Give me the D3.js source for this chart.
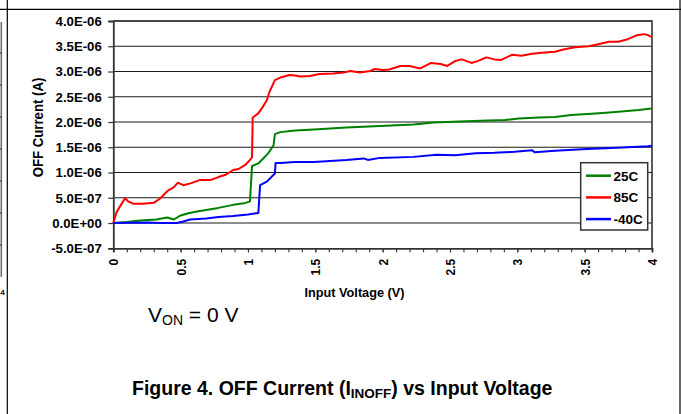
<!DOCTYPE html>
<html><head><meta charset="utf-8">
<script src="https://cdn.jsdelivr.net/npm/d3@7/dist/d3.min.js"></script>
<style>
html,body{margin:0;padding:0;background:#fff;}
svg{display:block;font-family:"Liberation Sans",Arial,Helvetica,sans-serif;}
</style></head>
<body>
<svg id="chart" width="681" height="414"></svg>
<script>
// ---- data (voltage in V, current in µA; axis labels shown in A) ----
const seriesNames = ["25C", "85C", "-40C"];
const seriesColors = ["#008000", "#ff0000", "#0000ff"];

const v25 = [0,0.10,0.20,0.32,0.40,0.45,0.50,0.55,0.62,0.69,0.78,0.89,0.97,1.015,1.03,1.077,1.15,1.19,1.20,1.24,1.35,1.49,1.73,1.98,2.23,2.38,2.57,2.78,2.91,3.01,3.16,3.28,3.40,3.58,3.73,3.90,4.00];
const i25 = [0,0.02,0.05,0.07,0.11,0.07,0.15,0.19,0.23,0.26,0.30,0.36,0.39,0.43,1.13,1.18,1.38,1.54,1.76,1.80,1.83,1.85,1.89,1.92,1.95,1.99,2.01,2.03,2.04,2.07,2.09,2.10,2.14,2.17,2.20,2.24,2.27];

const v85 = [0,0.025,0.05,0.087,0.11,0.15,0.22,0.30,0.35,0.40,0.45,0.48,0.52,0.58,0.64,0.72,0.79,0.83,0.89,0.93,0.98,1.015,1.03,1.035,1.077,1.11,1.14,1.16,1.20,1.24,1.31,1.35,1.39,1.46,1.53,1.63,1.71,1.76,1.83,1.91,1.94,2.00,2.05,2.13,2.20,2.28,2.36,2.43,2.48,2.54,2.59,2.66,2.71,2.77,2.83,2.88,2.96,3.03,3.11,3.18,3.28,3.35,3.43,3.53,3.60,3.68,3.75,3.82,3.89,3.94,3.97,4.00];
const i85 = [0,0.22,0.33,0.49,0.43,0.38,0.38,0.40,0.49,0.63,0.71,0.80,0.75,0.79,0.85,0.85,0.92,0.95,1.05,1.07,1.15,1.25,1.30,2.09,2.17,2.30,2.43,2.60,2.83,2.88,2.93,2.92,2.90,2.91,2.95,2.96,2.98,3.01,2.98,3.01,3.05,3.03,3.04,3.11,3.11,3.06,3.17,3.15,3.11,3.21,3.24,3.17,3.21,3.28,3.24,3.23,3.33,3.31,3.35,3.37,3.39,3.44,3.48,3.50,3.54,3.59,3.59,3.64,3.72,3.74,3.72,3.68];

const vm40 = [0,0.25,0.35,0.47,0.52,0.57,0.69,0.78,0.89,1.00,1.077,1.09,1.14,1.20,1.205,1.24,1.35,1.49,1.73,1.86,1.89,1.98,2.23,2.40,2.54,2.69,2.83,2.98,3.11,3.13,3.28,3.48,3.65,3.82,3.97,4.00];
const im40 = [0,0.01,0.00,0.00,0.03,0.07,0.09,0.12,0.14,0.17,0.20,0.75,0.82,0.98,1.19,1.19,1.21,1.21,1.25,1.28,1.25,1.29,1.31,1.35,1.34,1.38,1.39,1.41,1.44,1.40,1.43,1.46,1.48,1.50,1.52,1.53];

const yTicks = [-0.5,0,0.5,1.0,1.5,2.0,2.5,3.0,3.5,4.0];
const xTicksMajor = [0,0.5,1,1.5,2,2.5,3,3.5,4];
const xTickLabels = ["0","0.5","1","1.5","2","2.5","3","3.5","4"];
const xTicksMinor = d3.range(0, 41).map(k => k / 10);

const seriesV = [v25, v85, vm40];
const seriesI = [i25, i85, im40];

// ---- layout ----
const svg = d3.select("#chart");
const L = 113.3, R = 652, T = 21, B = 248.3;
const x = d3.scaleLinear().domain([0, 4]).range([L, R]);
const y = d3.scaleLinear().domain([-0.5, 4.0]).range([B, T]);
const SX = 1.1;

function fmtA(u) {
  if (Math.abs(u) < 1e-12) return "0.0E+00";
  const val = u * 1e-6;
  let e = Math.floor(Math.log10(Math.abs(val)) + 1e-9);
  const m = val / Math.pow(10, e);
  const sign = e < 0 ? "-" : "+";
  return m.toFixed(1) + "E" + sign + String(Math.abs(e)).padStart(2, "0");
}

// outer page frame lines
svg.append("line").attr("x1", 0).attr("x2", 681).attr("y1", 9.3).attr("y2", 9.3).attr("stroke", "#000").attr("stroke-width", 1.2);
svg.append("line").attr("x1", 7.3).attr("x2", 7.3).attr("y1", 0).attr("y2", 414).attr("stroke", "#000").attr("stroke-width", 1.2);
svg.append("line").attr("x1", 680).attr("x2", 680).attr("y1", 0).attr("y2", 414).attr("stroke", "#000").attr("stroke-width", 1.2);
// neighbouring figure fragment on the left edge
svg.append("line").attr("x1", 1.3).attr("x2", 1.3).attr("y1", 22).attr("y2", 277).attr("stroke", "#666").attr("stroke-width", 1.5);
[53, 85, 117, 149, 181, 213, 245].forEach(t => svg.append("line").attr("x1", -1).attr("x2", 2).attr("y1", t).attr("y2", t).attr("stroke", "#333"));
svg.append("text").attr("x", 0.3).attr("y", 295).attr("font-size", 8).attr("font-weight", "bold").text("4");

// gridlines
svg.append("g").selectAll("line").data(yTicks.filter(t => t > -0.5)).join("line")
  .attr("x1", L).attr("x2", R).attr("y1", d => y(d)).attr("y2", d => y(d))
  .attr("stroke", "#1a1a1a").attr("stroke-width", 1.1);

// plot border (top/right)
svg.append("path").attr("d", `M${L},${T}H${R}V${B}`).attr("fill", "none").attr("stroke", "#333").attr("stroke-width", 1.6);

// y axis
const yAxis = d3.axisLeft(y).tickValues(yTicks).tickSize(5).tickFormat(fmtA);
const gy = svg.append("g").attr("transform", `translate(${L},0)`).call(yAxis);
gy.select(".domain").attr("stroke", "#333").attr("stroke-width", 1.8);
gy.selectAll(".tick line").attr("stroke", "#333").attr("stroke-width", 1.2);
gy.selectAll(".tick text").attr("font-size", 12).attr("font-weight", "bold").attr("fill", "#000")
  .attr("font-family", '"Liberation Sans",Arial,sans-serif')
  .attr("x", null).attr("dy", null).attr("text-anchor", "end")
  .attr("transform", `translate(-11.5,4.3) scale(${SX},1)`);

// x axis
const gxMinor = svg.append("g").attr("transform", `translate(0,${B})`)
  .call(d3.axisBottom(x).tickValues(xTicksMinor).tickSize(4).tickFormat(""));
gxMinor.select(".domain").attr("stroke", "#333").attr("stroke-width", 1.8);
gxMinor.selectAll(".tick line").attr("stroke", "#333").attr("stroke-width", 1.1);
const gx = svg.append("g").attr("transform", `translate(0,${B})`)
  .call(d3.axisBottom(x).tickValues(xTicksMajor).tickSize(4).tickFormat((d, i) => xTickLabels[i]));
gx.select(".domain").remove();
gx.selectAll(".tick line").attr("stroke", "#333").attr("stroke-width", 1.1);
gx.selectAll(".tick text").attr("font-size", 12).attr("font-weight", "bold").attr("fill", "#000")
  .attr("font-family", '"Liberation Sans",Arial,sans-serif')
  .attr("y", null).attr("dy", null).attr("text-anchor", "end")
  .attr("transform", `translate(4.6,10.5) scale(${SX},1) rotate(-90)`);

// series lines
const line = d3.line().x(d => x(d[0])).y(d => y(d[1]));
seriesNames.forEach((name, k) => {
  const pts = seriesV[k].map((v, j) => [v, seriesI[k][j]]);
  svg.append("path").datum(pts).attr("d", line)
    .attr("fill", "none").attr("stroke", seriesColors[k]).attr("stroke-width", 2)
    .attr("stroke-linejoin", "round");
});

// legend
const lg = svg.append("g");
lg.append("rect").attr("x", 580.7).attr("y", 162.7).attr("width", 67).attr("height", 67.3)
  .attr("fill", "#fff").attr("stroke", "#333").attr("stroke-width", 1.5);
seriesNames.forEach((name, k) => {
  const yy = 175.7 + k * 21.7;
  lg.append("line").attr("x1", 586).attr("x2", 611).attr("y1", yy).attr("y2", yy)
    .attr("stroke", seriesColors[k]).attr("stroke-width", 2.5);
  lg.append("text").attr("x", 613.5).attr("y", yy + 5).attr("font-size", 13.5).attr("font-weight", "bold").text(name);
});

// axis titles
svg.append("text").attr("text-anchor", "middle").attr("font-size", 13.2).attr("font-weight", "bold")
  .attr("transform", `translate(42.5,127.5) scale(${SX},1) rotate(-90)`).text("OFF Current (A)");
svg.append("text").attr("text-anchor", "middle").attr("font-size", 12.7).attr("font-weight", "bold")
  .attr("x", 354.5).attr("y", 297).text("Input Voltage (V)");

// annotation
const von = svg.append("text").attr("x", 148).attr("y", 321.5).attr("font-size", 21);
von.append("tspan").text("V");
von.append("tspan").attr("font-size", 14).attr("dy", 3.5).text("ON");
von.append("tspan").attr("dy", -3.5).text(" = 0 V");

// caption
const cap = svg.append("text").attr("x", 132).attr("y", 394.5).attr("font-size", 19.5).attr("font-weight", "bold");
cap.append("tspan").text("Figure 4. OFF Current (I");
cap.append("tspan").attr("font-size", 13.5).attr("dy", 3).text("INOFF");
cap.append("tspan").attr("dy", -3).text(") vs Input Voltage");
</script>
</body></html>
